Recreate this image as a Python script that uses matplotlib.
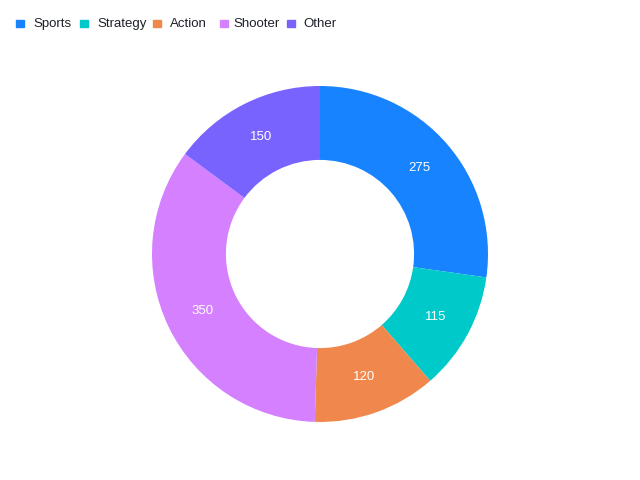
import matplotlib
matplotlib.use("Agg")
import matplotlib.pyplot as plt
from matplotlib.patches import Rectangle

categories = ["Sports", "Strategy", "Action", "Shooter", "Other"]
values = [275, 115, 120, 350, 150]
colors = ["#1783FF", "#00C9C9", "#F0884D", "#D580FF", "#7863FF"]

plt.rcParams['font.family'] = ['Liberation Sans', 'DejaVu Sans']

fig = plt.figure(figsize=(6.4, 4.8), dpi=100)
W, H = 640, 480
cx, cy, R = 320, 254, 168
ax = fig.add_axes([(cx - R) / W, (H - cy - R) / H, 2 * R / W, 2 * R / H])
wedges, texts = ax.pie(values, colors=colors, startangle=90, counterclock=False,
                       radius=1, labels=[str(v) for v in values], labeldistance=0.78,
                       wedgeprops=dict(width=0.44, linewidth=0),
                       textprops=dict(color="white", fontsize=9.5))
for t in texts:
    t.set_ha("center"); t.set_va("center")
ax.set_xlim(-1, 1); ax.set_ylim(-1, 1)
ax.set_aspect("equal")
ax.axis("off")

# legend
mx = [16, 80, 153, 220, 287]
tx = [33, 97, 170, 233, 303]
for x, t, c, lab in zip(mx, tx, colors, categories):
    fig.patches.append(Rectangle((x / W, (H - 27) / H), 7.5 / W, 7.5 / H, color=c,
                                 transform=fig.transFigure, figure=fig))
    fig.text(t / W, (H - 27) / H, lab, fontsize=9.5, color="#1D2129",
             ha="left", va="baseline")

fig.savefig("out.png", dpi=100)
